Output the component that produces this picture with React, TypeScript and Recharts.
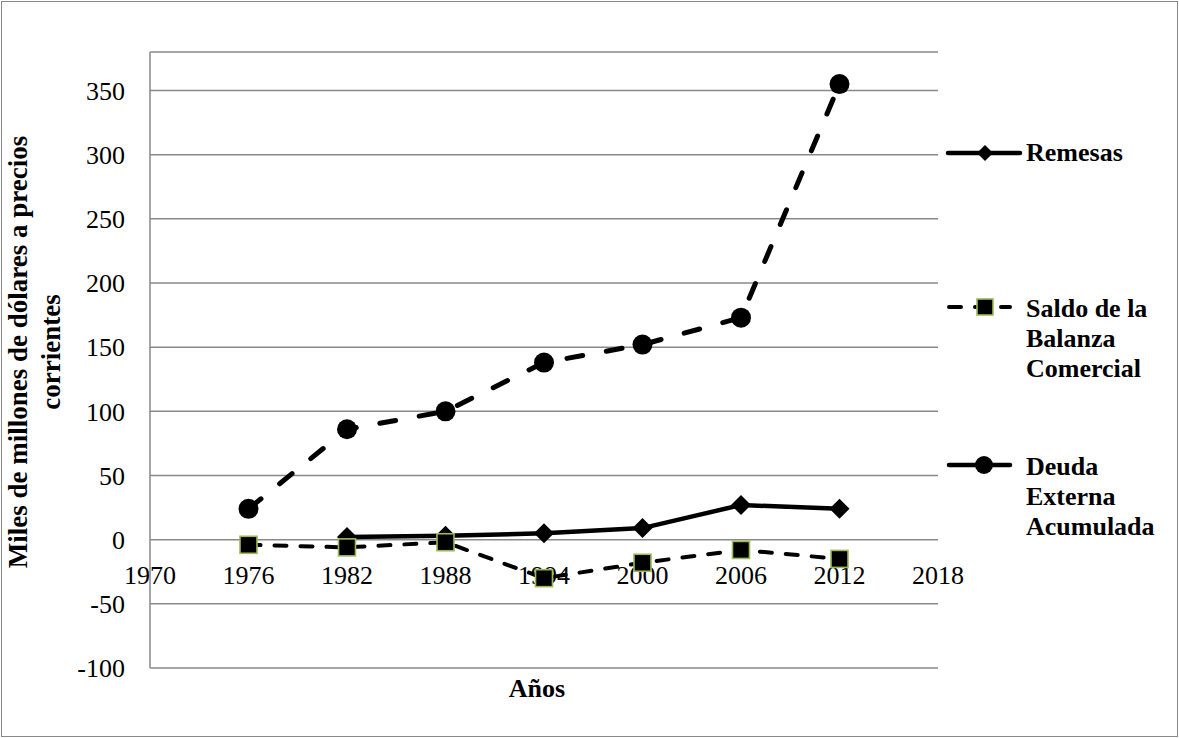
import React from "react"
import {
  LineChart,
  Line,
  XAxis,
  YAxis,
  CartesianGrid,
  ReferenceDot,
} from "recharts"

const years = [1976, 1982, 1988, 1994, 2000, 2006, 2012]
const remesas = [null, 2, 3, 5, 9, 27, 24]
const saldoBalanza = [-4, -6, -2, -30, -18, -8, -15]
const deudaExterna = [24, 86, 100, 138, 152, 173, 355]

const yearTicks = [1970, 1976, 1982, 1988, 1994, 2000, 2006, 2012, 2018]
const valueTicks = [-100, -50, 0, 50, 100, 150, 200, 250, 300, 350]

const FONT = "Liberation Serif, Tinos, Times New Roman, DejaVu Serif, serif"
const GRID = "#898989"
const GREEN = "#9BBB59"

const data = years.map((year, i) => ({
  year,
  remesas: remesas[i],
  saldo: saldoBalanza[i],
  deuda: deudaExterna[i],
}))

const DiamondDot = (props: any) => {
  const { cx, cy, index } = props
  if (cx == null || cy == null) return <g key={`d-${index}`} />
  return (
    <path
      key={`d-${index}`}
      d={`M${cx},${cy - 10}L${cx + 10},${cy}L${cx},${cy + 10}L${cx - 10},${cy}Z`}
      fill="#000"
    />
  )
}

const SquareDot = (props: any) => {
  const { cx, cy, index } = props
  if (cx == null || cy == null) return <g key={`s-${index}`} />
  return (
    <rect
      key={`s-${index}`}
      x={cx - 8.5}
      y={cy - 8.5}
      width={17}
      height={17}
      fill="#000"
      stroke={GREEN}
      strokeWidth={1.6}
    />
  )
}

const CircleDot = (props: any) => {
  const { cx, cy, index } = props
  if (cx == null || cy == null) return <g key={`c-${index}`} />
  return <circle key={`c-${index}`} cx={cx} cy={cy} r={10} fill="#000" />
}

const yearLabel = (year: number) => (props: any) => {
  const vb = props.viewBox || {}
  return (
    <text
      x={vb.x + (vb.width || 0) / 2}
      y={vb.y + 44}
      textAnchor="middle"
      style={{ fontFamily: FONT }}
      fontSize={26}
      fill="#000"
    >
      {year}
    </text>
  )
}

const yTitle = () => {
  const cy = 352
  return (
    <g style={{ fontFamily: FONT }} fontSize={27} fontWeight="bold" fill="#000">
      <text x={27} y={cy} textAnchor="middle" transform={`rotate(-90, 27, ${cy})`}>
        Miles de millones de dólares a precios
      </text>
      <text x={60} y={cy} textAnchor="middle" transform={`rotate(-90, 60, ${cy})`}>
        corrientes
      </text>
    </g>
  )
}

const xTitle = (props: any) => {
  const vb = props.viewBox || {}
  return (
    <text
      x={vb.x + vb.width / 2 - 7}
      y={vb.y + 29}
      textAnchor="middle"
      style={{ fontFamily: FONT }}
      fontSize={26}
      fontWeight="bold"
      fill="#000"
    >
      Años
    </text>
  )
}

function LegendBox() {
  const txt = {
    style: { fontFamily: FONT },
    fontSize: 26,
    fontWeight: "bold" as const,
    fill: "#000",
  }
  return (
    <svg
      width={1179}
      height={738}
      style={{ position: "absolute", left: 0, top: 0, pointerEvents: "none" }}
    >
      {/* Remesas */}
      <line x1={948} x2={1020} y1={153} y2={153} stroke="#000" strokeWidth={4.5} strokeLinecap="round" />
      <path d="M985,145L993,153L985,161L977,153Z" fill="#000" />
      <text x={1026} y={161} {...txt}>Remesas</text>

      {/* Saldo */}
      <line x1={949} x2={1010} y1={307} y2={307} stroke="#000" strokeWidth={4} strokeDasharray="12 14" strokeLinecap="round" />
      <rect x={977} y={299} width={16} height={16} fill="#000" stroke={GREEN} strokeWidth={1.6} />
      <text {...txt}>
        <tspan x={1026} y={317}>Saldo de la</tspan>
        <tspan x={1026} y={347}>Balanza</tspan>
        <tspan x={1026} y={377}>Comercial</tspan>
      </text>

      {/* Deuda */}
      <line x1={949} x2={1010} y1={465} y2={465} stroke="#000" strokeWidth={4.5} strokeLinecap="round" />
      <circle cx={984} cy={465} r={9} fill="#000" />
      <text {...txt}>
        <tspan x={1026} y={475}>Deuda</tspan>
        <tspan x={1026} y={505}>Externa</tspan>
        <tspan x={1026} y={535}>Acumulada</tspan>
      </text>
    </svg>
  )
}

export default function App() {
  return (
    <div
      style={{
        position: "absolute",
        left: 0,
        top: 0,
        width: 1179,
        height: 738,
        background: "#fff",
        fontFamily: FONT,
      }}
    >
      <LineChart
        width={1179}
        height={738}
        data={data}
        margin={{ top: 52, right: 241, bottom: 40, left: 70 }}
        style={{ fontFamily: FONT }}
      >
        <CartesianGrid horizontal vertical={false} stroke={GRID} strokeWidth={1.5} />
        <XAxis
          dataKey="year"
          type="number"
          domain={[1970, 2018]}
          ticks={yearTicks}
          tick={false}
          tickLine={false}
          axisLine={false}
          height={30}
          label={{ content: xTitle }}
        />
        <YAxis
          type="number"
          domain={[-100, 380]}
          ticks={valueTicks}
          width={80}
          tickSize={0}
          tickMargin={25}
          tickLine={false}
          axisLine={{ stroke: GRID, strokeWidth: 1.5 }}
          tick={{ fontSize: 26, fill: "#000", style: { fontFamily: FONT } }}
          label={{ content: yTitle }}
        />
        {yearTicks.map((yr) => (
          <ReferenceDot
            key={yr}
            x={yr}
            y={0}
            r={0}
            fill="none"
            stroke="none"
            label={{ content: yearLabel(yr) }}
          />
        ))}
        <Line
          dataKey="remesas"
          stroke="#000"
          strokeWidth={4.5}
          dot={<DiamondDot />}
          activeDot={false}
          isAnimationActive={false}
        />
        <Line
          dataKey="saldo"
          stroke="#000"
          strokeWidth={4}
          strokeDasharray="12 14"
          strokeLinecap="round"
          dot={<SquareDot />}
          activeDot={false}
          isAnimationActive={false}
        />
        <Line
          dataKey="deuda"
          stroke="#000"
          strokeWidth={5}
          strokeDasharray="16 24"
          strokeLinecap="round"
          dot={<CircleDot />}
          activeDot={false}
          isAnimationActive={false}
        />
      </LineChart>
      <LegendBox />
      <div
        style={{
          position: "absolute",
          left: 1,
          top: 1,
          width: 1177,
          height: 736,
          boxSizing: "border-box",
          border: `1.5px solid ${GRID}`,
          pointerEvents: "none",
        }}
      />
    </div>
  )
}
